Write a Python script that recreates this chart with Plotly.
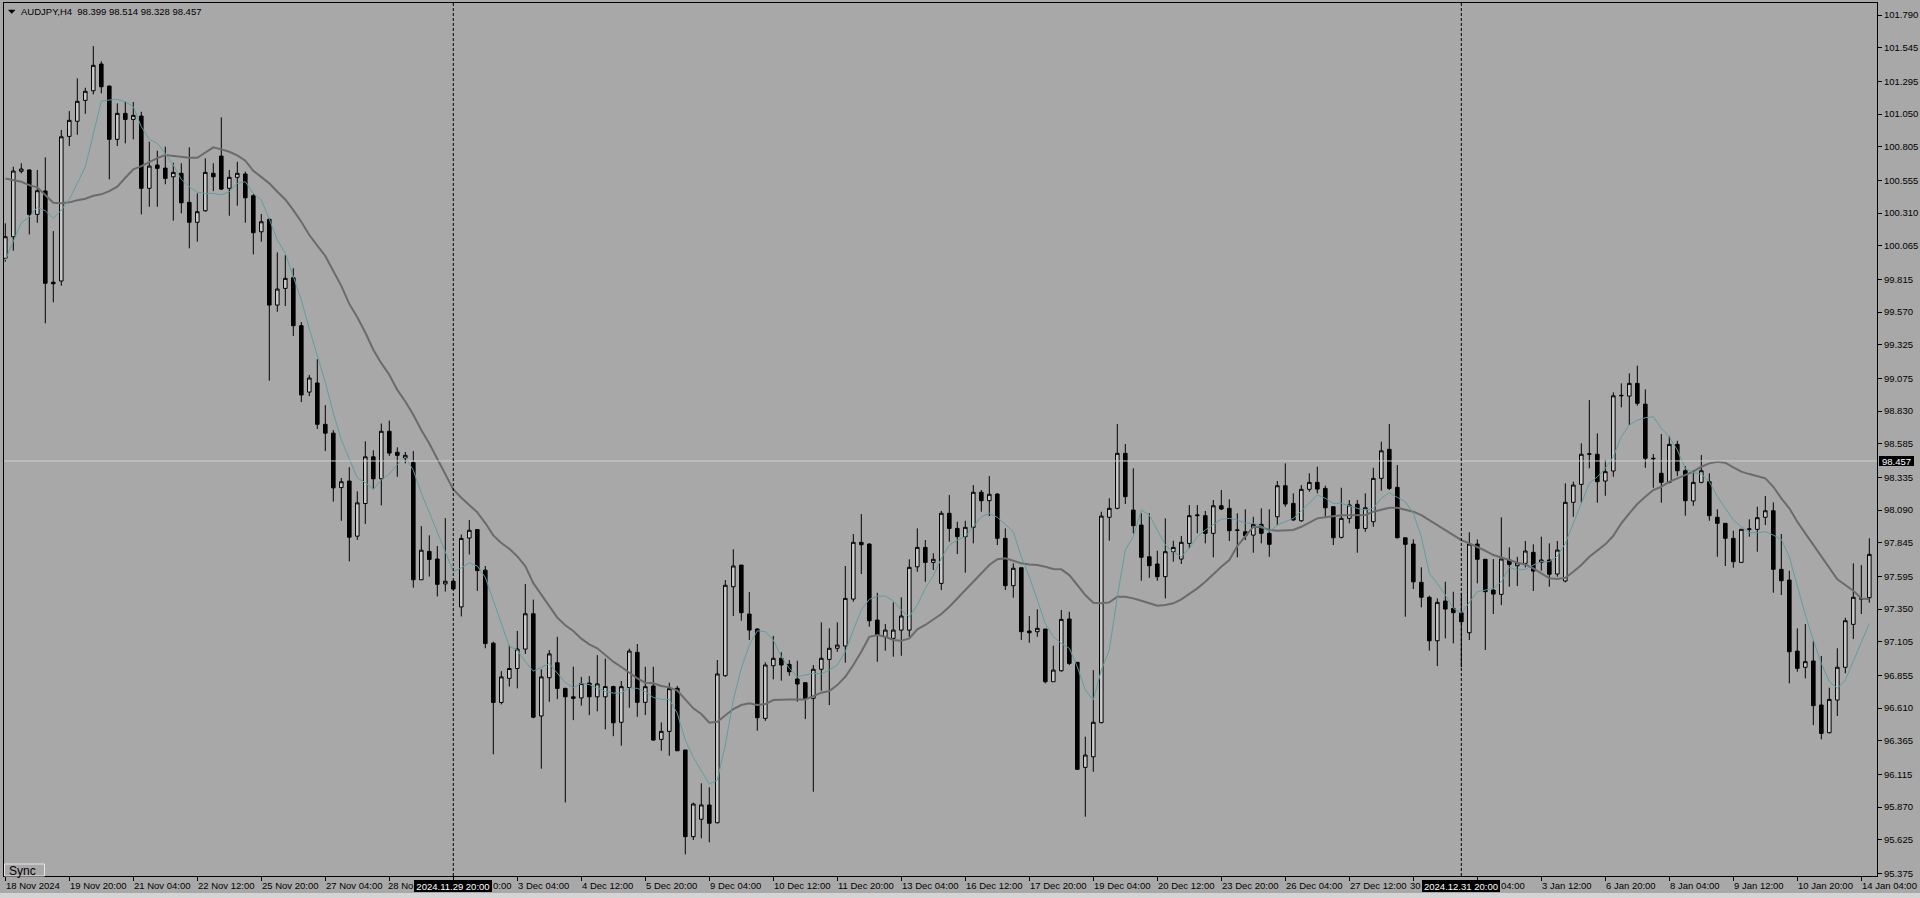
import plotly.graph_objects as go

# ---------------- data (AUDJPY, H4) ----------------
opens = [
    99.972, 100.133, 100.622, 100.632, 100.300, 100.475, 99.793, 99.802, 100.883, 100.996,
    101.152, 101.224, 101.424, 101.259, 100.861, 101.055, 101.010, 101.035, 100.495, 100.669,
    100.646, 100.581, 100.607, 100.390, 100.241, 100.327, 100.607, 100.736, 100.495, 100.577,
    100.602, 100.439, 100.170, 100.263, 99.622, 99.747, 99.826, 99.468, 98.972, 99.040,
    98.731, 98.665, 98.258, 98.307, 97.895, 98.139, 98.488, 98.324, 98.679, 98.522,
    98.479, 98.445, 97.569, 97.781, 97.724, 97.538, 97.558, 97.366, 97.881, 97.944,
    97.641, 97.095, 96.652, 96.832, 96.906, 97.051, 97.315, 96.551, 96.837, 96.949,
    96.757, 96.694, 96.686, 96.797, 96.694, 96.694, 96.771, 96.504, 96.764, 97.027,
    96.653, 96.775, 96.376, 96.436, 96.758, 96.297, 95.649, 95.779, 95.886, 95.753,
    96.852, 97.517, 97.679, 97.313, 97.201, 96.533, 96.927, 96.982, 96.937, 96.827,
    96.800, 96.683, 96.900, 96.974, 97.057, 97.074, 97.425, 97.849, 97.836, 97.268,
    97.143, 97.131, 97.193, 97.193, 97.666, 97.811, 97.699, 97.542, 98.066, 97.953,
    97.891, 97.961, 98.223, 98.160, 98.210, 97.879, 97.525, 97.659, 97.186, 97.181,
    97.201, 96.807, 96.889, 97.276, 96.952, 96.167, 96.246, 96.501, 98.036, 98.103,
    98.514, 98.090, 97.978, 97.741, 97.687, 97.592, 97.779, 97.724, 97.841, 98.048,
    98.048, 97.916, 98.122, 98.103, 97.941, 97.928, 97.903, 97.983, 97.916, 98.040,
    98.272, 98.140, 98.010, 98.245, 98.297, 98.252, 98.115, 97.886, 98.028, 98.133,
    97.953, 98.003, 98.327, 98.544, 98.260, 97.883, 97.836, 97.550, 97.438, 97.113,
    97.410, 97.355, 97.323, 97.173, 97.836, 97.722, 97.492, 97.460, 97.717, 97.674,
    97.692, 97.774, 97.699, 97.717, 97.612, 97.560, 98.148, 98.282, 98.507, 98.507,
    98.307, 98.382, 98.944, 98.942, 99.037, 98.882, 98.477, 98.365, 98.297, 98.581,
    98.384, 98.158, 98.297, 98.302, 98.036, 97.991, 97.879, 97.699, 97.946, 97.946,
    98.036, 98.085, 97.647, 97.567, 97.036, 96.915, 96.962, 96.633, 96.426, 96.670,
    96.915, 97.236, 97.425, 97.435,
]
highs = [
    100.233, 100.656, 100.682, 100.637, 100.632, 100.726, 100.175, 100.931, 101.072, 101.317,
    101.247, 101.558, 101.444, 101.264, 101.130, 101.142, 101.140, 101.067, 100.843, 100.776,
    100.806, 100.686, 100.682, 100.801, 100.457, 100.719, 100.682, 101.025, 100.632, 100.693,
    100.619, 100.452, 100.303, 100.270, 100.016, 99.996, 99.897, 99.495, 99.099, 99.217,
    98.874, 98.688, 98.330, 98.410, 98.230, 98.604, 98.537, 98.737, 98.759, 98.559,
    98.524, 98.531, 97.970, 97.901, 97.821, 98.030, 97.569, 97.907, 98.016, 97.944,
    97.672, 97.106, 96.886, 97.078, 97.186, 97.538, 97.421, 96.900, 97.043, 97.143,
    96.763, 96.920, 96.843, 96.849, 97.006, 96.980, 96.777, 96.812, 97.054, 97.089,
    96.919, 96.919, 96.503, 96.800, 96.775, 96.297, 95.903, 96.048, 96.018, 96.969,
    97.567, 97.797, 97.679, 97.477, 97.206, 96.952, 97.149, 97.027, 96.969, 96.964,
    96.800, 96.932, 97.251, 97.206, 97.251, 97.672, 97.911, 98.060, 97.841, 97.472,
    97.238, 97.400, 97.438, 97.722, 97.953, 97.866, 97.767, 98.083, 98.202, 98.003,
    98.010, 98.277, 98.240, 98.344, 98.215, 97.953, 97.692, 97.659, 97.298, 97.348,
    97.201, 97.076, 97.343, 97.330, 96.952, 96.396, 96.894, 98.078, 98.178, 98.733,
    98.584, 98.402, 98.066, 98.066, 97.786, 98.028, 97.861, 97.896, 98.128, 98.128,
    98.083, 98.165, 98.240, 98.170, 98.066, 98.096, 98.040, 98.103, 98.096, 98.307,
    98.439, 98.215, 98.277, 98.365, 98.414, 98.272, 98.115, 98.257, 98.165, 98.165,
    98.215, 98.406, 98.601, 98.733, 98.427, 97.883, 97.871, 97.662, 97.450, 97.430,
    97.554, 97.480, 97.472, 97.924, 97.871, 97.724, 97.724, 98.036, 97.811, 97.741,
    97.859, 97.834, 97.891, 97.841, 97.859, 98.290, 98.302, 98.589, 98.912, 98.663,
    98.464, 98.970, 99.037, 99.112, 99.169, 98.992, 98.509, 98.658, 98.643, 98.608,
    98.419, 98.389, 98.501, 98.365, 98.096, 97.991, 97.936, 97.946, 98.021, 98.115,
    98.195, 98.148, 97.911, 97.637, 97.206, 97.238, 97.111, 96.999, 96.762, 97.057,
    97.285, 97.692, 97.679, 97.879,
]
lows = [
    99.947, 100.029, 100.607, 100.150, 100.237, 99.486, 99.643, 99.767, 100.811, 100.895,
    101.052, 101.197, 101.205, 100.562, 100.811, 100.831, 100.861, 100.300, 100.357, 100.357,
    100.525, 100.253, 100.308, 100.046, 100.096, 100.320, 100.474, 100.482, 100.290, 100.365,
    100.238, 100.001, 100.096, 99.057, 99.572, 99.615, 99.391, 98.897, 98.942, 98.696,
    98.531, 98.153, 98.010, 97.707, 97.867, 97.987, 98.250, 98.125, 98.496, 98.339,
    98.439, 97.510, 97.567, 97.593, 97.444, 97.481, 97.492, 97.295, 97.758, 97.486,
    97.057, 96.265, 96.637, 96.771, 96.757, 97.015, 96.534, 96.157, 96.657, 96.677,
    95.905, 96.520, 96.628, 96.557, 96.586, 96.451, 96.400, 96.329, 96.613, 96.545,
    96.558, 96.366, 96.291, 96.254, 96.291, 95.517, 95.624, 95.637, 95.607, 95.749,
    96.844, 97.298, 97.263, 97.119, 96.441, 96.515, 96.825, 96.815, 96.852, 96.658,
    96.528, 95.985, 96.740, 96.633, 97.031, 96.949, 97.405, 97.612, 97.218, 96.956,
    97.039, 96.994, 97.001, 97.143, 97.629, 97.554, 97.642, 97.492, 97.853, 97.761,
    97.622, 97.841, 98.078, 98.045, 97.829, 97.492, 97.435, 97.119, 97.098, 97.143,
    96.795, 96.807, 96.882, 96.932, 96.152, 95.798, 96.134, 96.496, 97.861, 98.096,
    98.135, 97.916, 97.562, 97.584, 97.562, 97.430, 97.704, 97.687, 97.804, 97.916,
    97.841, 97.737, 98.090, 97.859, 97.737, 97.866, 97.771, 97.841, 97.741, 97.978,
    98.115, 98.010, 98.003, 98.227, 98.215, 98.040, 97.829, 97.879, 97.991, 97.771,
    97.928, 97.965, 98.235, 98.240, 97.879, 97.293, 97.500, 97.363, 97.039, 96.924,
    97.131, 97.094, 96.915, 97.119, 97.542, 97.044, 97.313, 97.380, 97.517, 97.522,
    97.662, 97.485, 97.637, 97.517, 97.592, 97.550, 98.040, 98.145, 98.402, 98.145,
    98.197, 98.339, 98.858, 98.726, 98.870, 98.406, 98.257, 98.145, 98.290, 98.344,
    98.048, 98.122, 98.290, 98.010, 97.741, 97.672, 97.659, 97.699, 97.891, 97.779,
    97.978, 97.472, 97.455, 96.795, 96.882, 96.832, 96.483, 96.376, 96.421, 96.551,
    96.870, 97.126, 97.313, 97.398,
]
closes = [
    100.133, 100.624, 100.639, 100.300, 100.477, 99.785, 99.782, 100.880, 101.003, 101.145,
    101.220, 101.414, 101.254, 100.861, 101.055, 101.010, 101.040, 100.495, 100.661, 100.644,
    100.569, 100.614, 100.387, 100.241, 100.320, 100.614, 100.581, 100.489, 100.577, 100.607,
    100.424, 100.163, 100.245, 99.622, 99.742, 99.822, 99.468, 98.950, 99.077, 98.731,
    98.665, 98.256, 98.302, 97.887, 98.144, 98.488, 98.324, 98.679, 98.516, 98.499,
    98.499, 97.569, 97.790, 97.721, 97.535, 97.558, 97.500, 97.878, 97.939, 97.638,
    97.092, 96.652, 96.843, 96.906, 97.051, 97.315, 96.542, 96.843, 97.015, 96.757,
    96.694, 96.683, 96.794, 96.694, 96.791, 96.771, 96.500, 96.770, 97.036, 96.653,
    96.770, 96.371, 96.436, 96.755, 96.291, 95.649, 95.893, 95.886, 95.749, 96.865,
    97.528, 97.672, 97.323, 97.193, 96.538, 96.932, 96.982, 96.932, 96.882, 96.790,
    96.678, 96.900, 96.982, 97.057, 97.081, 97.430, 97.849, 97.831, 97.263, 97.156,
    97.193, 97.193, 97.298, 97.662, 97.811, 97.699, 97.722, 98.066, 97.953, 97.891,
    97.961, 98.223, 98.160, 98.208, 97.879, 97.525, 97.655, 97.181, 97.173, 97.206,
    96.807, 96.894, 97.273, 96.944, 96.152, 96.259, 96.504, 98.045, 98.103, 98.514,
    98.190, 97.973, 97.737, 97.674, 97.592, 97.779, 97.811, 97.849, 98.048, 98.053,
    97.916, 98.122, 98.098, 97.936, 97.939, 97.898, 97.983, 97.916, 97.834, 98.272,
    98.135, 98.016, 98.245, 98.297, 98.247, 98.107, 97.883, 98.028, 98.128, 97.953,
    98.107, 98.327, 98.533, 98.252, 97.883, 97.834, 97.554, 97.438, 97.113, 97.400,
    97.350, 97.323, 97.255, 97.836, 97.722, 97.480, 97.462, 97.724, 97.684, 97.696,
    97.784, 97.634, 97.717, 97.610, 97.791, 98.148, 98.277, 98.507, 98.510, 98.302,
    98.377, 98.944, 98.947, 99.037, 98.888, 98.477, 98.474, 98.297, 98.581, 98.384,
    98.160, 98.297, 98.384, 98.048, 97.991, 97.879, 97.704, 97.946, 97.949, 98.033,
    98.085, 97.647, 97.562, 97.031, 96.907, 96.957, 96.628, 96.421, 96.675, 96.915,
    97.263, 97.438, 97.428, 97.759,
]
ma_slow = [
    100.569, 100.557, 100.544, 100.519, 100.502, 100.445, 100.387, 100.383, 100.390, 100.405,
    100.417, 100.439, 100.450, 100.474, 100.507, 100.574, 100.637, 100.661, 100.694, 100.721,
    100.744, 100.738, 100.731, 100.723, 100.723, 100.761, 100.801, 100.786, 100.768, 100.741,
    100.701, 100.626, 100.581, 100.532, 100.469, 100.412, 100.332, 100.245, 100.146, 100.063,
    99.989, 99.877, 99.766, 99.631, 99.531, 99.417, 99.288, 99.188, 99.102, 98.988,
    98.902, 98.803, 98.688, 98.588, 98.473, 98.359, 98.244, 98.182, 98.130, 98.073,
    97.993, 97.901, 97.844, 97.801, 97.744, 97.672, 97.544, 97.458, 97.372, 97.286,
    97.229, 97.186, 97.129, 97.086, 97.057, 97.009, 96.957, 96.917, 96.874, 96.832,
    96.800, 96.795, 96.775, 96.765, 96.740, 96.670, 96.608, 96.566, 96.501, 96.508,
    96.558, 96.603, 96.633, 96.646, 96.633, 96.640, 96.670, 96.675, 96.675, 96.675,
    96.675, 96.700, 96.725, 96.738, 96.782, 96.844, 96.932, 97.031, 97.143, 97.156,
    97.143, 97.119, 97.113, 97.131, 97.199, 97.231, 97.270, 97.313, 97.368, 97.430,
    97.492, 97.554, 97.617, 97.679, 97.722, 97.729, 97.711, 97.692, 97.684, 97.679,
    97.666, 97.649, 97.647, 97.604, 97.530, 97.455, 97.397, 97.393, 97.400, 97.442,
    97.442, 97.430, 97.412, 97.393, 97.375, 97.380, 97.393, 97.423, 97.462, 97.505,
    97.554, 97.612, 97.666, 97.717, 97.821, 97.894, 97.965, 97.961, 97.941, 97.936,
    97.936, 97.941, 97.965, 97.995, 98.028, 98.036, 98.045, 98.051, 98.051, 98.053,
    98.053, 98.078, 98.095, 98.107, 98.107, 98.095, 98.078, 98.053, 98.016, 97.978,
    97.941, 97.903, 97.866, 97.841, 97.816, 97.786, 97.754, 97.737, 97.717, 97.696,
    97.684, 97.655, 97.617, 97.580, 97.575, 97.584, 97.629, 97.679, 97.741, 97.791,
    97.834, 97.898, 97.991, 98.066, 98.135, 98.190, 98.240, 98.264, 98.302, 98.327,
    98.352, 98.377, 98.414, 98.439, 98.451, 98.444, 98.409, 98.377, 98.359, 98.344,
    98.327, 98.264, 98.178, 98.103, 98.003, 97.916, 97.829, 97.741, 97.655, 97.572,
    97.530, 97.487, 97.430, 97.423,
]
ma_fast = [
    99.959, 100.096, 100.238, 100.282, 100.353, 100.327, 100.270, 100.332, 100.412, 100.532,
    100.656, 100.900, 101.147, 101.155, 101.160, 101.142, 101.105, 100.955, 100.861, 100.831,
    100.756, 100.669, 100.562, 100.507, 100.465, 100.457, 100.457, 100.445, 100.469, 100.532,
    100.544, 100.457, 100.407, 100.265, 100.108, 100.009, 99.834, 99.660, 99.445, 99.239,
    99.045, 98.817, 98.616, 98.473, 98.330, 98.296, 98.244, 98.316, 98.359, 98.430,
    98.488, 98.388, 98.216, 98.073, 97.930, 97.787, 97.630, 97.658, 97.696, 97.672,
    97.587, 97.415, 97.243, 97.072, 97.043, 96.957, 96.886, 96.915, 96.943, 96.871,
    96.800, 96.763, 96.794, 96.786, 96.763, 96.734, 96.722, 96.724, 96.760, 96.758,
    96.732, 96.690, 96.675, 96.675, 96.571, 96.371, 96.242, 96.147, 96.042, 96.072,
    96.334, 96.670, 96.907, 97.081, 97.188, 97.181, 97.119, 96.994, 96.907, 96.844,
    96.857, 96.870, 96.865, 96.894, 96.932, 97.031, 97.193, 97.343, 97.423, 97.447,
    97.447, 97.412, 97.343, 97.293, 97.380, 97.505, 97.599, 97.729, 97.829, 97.866,
    97.891, 97.965, 98.040, 98.066, 98.036, 97.983, 97.928, 97.741, 97.592, 97.418,
    97.243, 97.143, 97.094, 97.057, 96.919, 96.745, 96.670, 96.894, 97.044, 97.442,
    97.791, 97.891, 98.090, 98.053, 97.941, 97.829, 97.779, 97.741, 97.804, 97.891,
    97.941, 97.978, 98.021, 98.028, 98.016, 97.993, 97.991, 97.971, 97.928, 97.978,
    98.003, 98.028, 98.083, 98.140, 98.202, 98.178, 98.140, 98.140, 98.120, 98.103,
    98.090, 98.103, 98.178, 98.220, 98.185, 98.152, 98.066, 97.891, 97.617, 97.542,
    97.455, 97.356, 97.318, 97.397, 97.480, 97.492, 97.505, 97.554, 97.662, 97.642,
    97.647, 97.679, 97.704, 97.704, 97.746, 97.841, 97.991, 98.140, 98.290, 98.339,
    98.402, 98.489, 98.638, 98.726, 98.763, 98.780, 98.788, 98.701, 98.638, 98.539,
    98.402, 98.369, 98.359, 98.302, 98.190, 98.103, 98.016, 97.966, 97.921, 97.921,
    97.928, 97.903, 97.871, 97.741, 97.517, 97.306, 97.119, 96.944, 96.807, 96.758,
    96.820, 96.957, 97.094, 97.243,
]
x_tick_labels = [
    "18 Nov 2024", "19 Nov 20:00", "21 Nov 04:00", "22 Nov 12:00", "25 Nov 20:00",
    "27 Nov 04:00", "28 Nov 12:00", "29 Nov 20:00", "3 Dec 04:00", "4 Dec 12:00",
    "5 Dec 20:00", "9 Dec 04:00", "10 Dec 12:00", "11 Dec 20:00", "13 Dec 04:00",
    "16 Dec 12:00", "17 Dec 20:00", "19 Dec 04:00", "20 Dec 12:00", "23 Dec 20:00",
    "26 Dec 04:00", "27 Dec 12:00", "30 Dec 20:00", "2 Jan 04:00", "3 Jan 12:00",
    "6 Jan 20:00", "8 Jan 04:00", "9 Jan 12:00", "10 Jan 20:00", "14 Jan 04:00",
]
# parts of tick labels left visible around the black vertical-line label boxes
label_visible_parts = {
    "28 Nov 12:00": ("28 No", "before"),
    "29 Nov 20:00": ("0:00", "after"),
    "30 Dec 20:00": ("30", "before"),
    "2 Jan 04:00": ("04:00", "after"),
}
y_tick_values = [
    101.790, 101.545, 101.295, 101.050, 100.805, 100.555, 100.310, 100.065, 99.815,
    99.570, 99.325, 99.075, 98.830, 98.585, 98.335, 98.090, 97.845, 97.595, 97.350,
    97.105, 96.855, 96.610, 96.365, 96.115, 95.870, 95.625, 95.375,
]
title_text = "AUDJPY,H4\u00a0 98.399 98.514 98.328 98.457"
bid_price = 98.457
separator_bars = [56, 182]
separator_labels = ["2024.11.29 20:00", "2024.12.31 20:00"]
label_every = 8

# ---------------- layout helpers ----------------
W, H = 1920, 898
PL, PR, PT, PB = 4, 1877, 3, 876
X_RANGE = [-0.1625, 233.96]
Y_RANGE = [95.355, 101.880]
BOX_W = 78


def paper_x(px):
    return (px - PL) / (PR - PL)


def paper_y(py):
    return (PB - py) / (PB - PT)


BG = "#a8a8a8"
BULL_FILL = "#c8c8c8"
FONT = "Liberation Sans, Arial, sans-serif"
FS = 9.5

idx = list(range(len(opens)))

fig = go.Figure()
fig.add_trace(go.Candlestick(
    x=idx, open=opens, high=highs, low=lows, close=closes,
    increasing=dict(line=dict(color="black", width=1), fillcolor=BULL_FILL),
    decreasing=dict(line=dict(color="black", width=1), fillcolor="black"),
    whiskerwidth=0, hoverinfo="skip", showlegend=False,
))
fig.add_trace(go.Scatter(x=idx, y=ma_slow, mode="lines",
                         line=dict(color="#6b6b6b", width=2),
                         hoverinfo="skip", showlegend=False))
fig.add_trace(go.Scatter(x=idx, y=ma_fast, mode="lines",
                         line=dict(color="#5f9ea0", width=1),
                         hoverinfo="skip", showlegend=False))

shapes = []
shapes.append(dict(type="line", xref="paper", yref="y", x0=0, x1=1, y0=bid_price, y1=bid_price,
                   line=dict(color="#cfcfcf", width=1), layer="above"))
for b in separator_bars:
    shapes.append(dict(type="line", xref="x", yref="paper", x0=b, x1=b, y0=0, y1=1,
                       line=dict(color="black", width=1, dash="3px,2px"), layer="above"))
shapes.append(dict(type="rect", xref="paper", yref="paper",
                   x0=paper_x(0), x1=paper_x(W), y0=paper_y(898), y1=paper_y(893),
                   fillcolor="#d4d4d4", line=dict(width=0), layer="above"))
tri = "M {a},{b} L {c},{b} L {d},{e} Z".format(
    a=paper_x(8.5), b=paper_y(10), c=paper_x(15), d=paper_x(11.75), e=paper_y(13.5))
shapes.append(dict(type="path", xref="paper", yref="paper", path=tri,
                   fillcolor="black", line=dict(color="black", width=0.5)))
shapes.append(dict(type="rect", xref="paper", yref="paper",
                   x0=paper_x(4.5), x1=paper_x(44.5), y0=paper_y(876), y1=paper_y(864),
                   fillcolor=BG, line=dict(color="#e6e6e6", width=1), layer="above"))

annotations = []
annotations.append(dict(xref="paper", yref="paper", x=paper_x(20.5), y=paper_y(11.7),
                        xanchor="left", yanchor="middle", text=title_text, showarrow=False,
                        font=dict(family=FONT, size=FS, color="black"),
                        borderpad=0, borderwidth=0))

label_y = paper_y(885.5)
for i, lab in enumerate(x_tick_labels):
    xv = i * label_every
    if lab in label_visible_parts:
        part, where = label_visible_parts[lab]
        # anchor the visible part against the nearest separator box
        b = min(separator_bars, key=lambda s: abs(s - xv))
        if where == "before":
            annotations.append(dict(xref="x", yref="paper", x=b, y=label_y,
                                    xanchor="right", yanchor="middle", xshift=-BOX_W / 2 - 1,
                                    text=part, showarrow=False, borderpad=0, borderwidth=0,
                                    font=dict(family=FONT, size=FS, color="black")))
        else:
            annotations.append(dict(xref="x", yref="paper", x=b, y=label_y,
                                    xanchor="left", yanchor="middle", xshift=BOX_W / 2 + 1,
                                    text=part, showarrow=False, borderpad=0, borderwidth=0,
                                    font=dict(family=FONT, size=FS, color="black")))
        continue
    annotations.append(dict(xref="x", yref="paper", x=xv, y=label_y,
                            xanchor="left", yanchor="middle", xshift=1, text=lab,
                            showarrow=False, borderpad=0, borderwidth=0,
                            font=dict(family=FONT, size=FS, color="black")))
for b, lab in zip(separator_bars, separator_labels):
    annotations.append(dict(xref="x", yref="paper", x=b, y=paper_y(885.7),
                            xanchor="center", yanchor="middle", text=lab, showarrow=False,
                            bgcolor="black", width=BOX_W, height=12, borderpad=0, borderwidth=0,
                            font=dict(family=FONT, size=FS, color="white")))
annotations.append(dict(xref="paper", yref="y", x=paper_x(1879), y=bid_price,
                        xanchor="left", yanchor="middle", text=f"{bid_price:.3f}",
                        showarrow=False, bgcolor="black", width=35, height=10,
                        borderpad=0, borderwidth=0,
                        font=dict(family=FONT, size=FS, color="white")))
annotations.append(dict(xref="paper", yref="paper", x=paper_x(9), y=paper_y(871),
                        xanchor="left", yanchor="middle", text="Sync", showarrow=False,
                        borderpad=0, borderwidth=0,
                        font=dict(family=FONT, size=12, color="black")))

fig.update_layout(
    width=W, height=H, autosize=False,
    margin=dict(l=PL, r=W - PR, t=PT, b=H - PB, pad=0),
    paper_bgcolor=BG, plot_bgcolor=BG,
    showlegend=False, hovermode=False,
    shapes=shapes, annotations=annotations,
    xaxis=dict(range=X_RANGE, showgrid=False, zeroline=False,
               showline=True, mirror=True, linecolor="black", linewidth=1,
               ticks="outside", ticklen=4, tickcolor="black", tickwidth=1,
               tickvals=[i * label_every for i in range(len(x_tick_labels))],
               showticklabels=False, rangeslider=dict(visible=False), fixedrange=True),
    yaxis=dict(range=Y_RANGE, side="right", showgrid=False, zeroline=False,
               showline=True, mirror=True, linecolor="black", linewidth=1,
               ticks="outside", ticklen=4, tickcolor="black", tickwidth=1,
               tickvals=y_tick_values, ticktext=[f"{v:.3f}" for v in y_tick_values],
               tickfont=dict(family=FONT, size=FS, color="black"), fixedrange=True),
    boxgap=0.36,
)

fig.write_html("out.html", include_plotlyjs=True, full_html=True,
               config={"displayModeBar": False, "staticPlot": True},
               post_script="document.body.style.margin='0';document.body.style.overflow='hidden';")
